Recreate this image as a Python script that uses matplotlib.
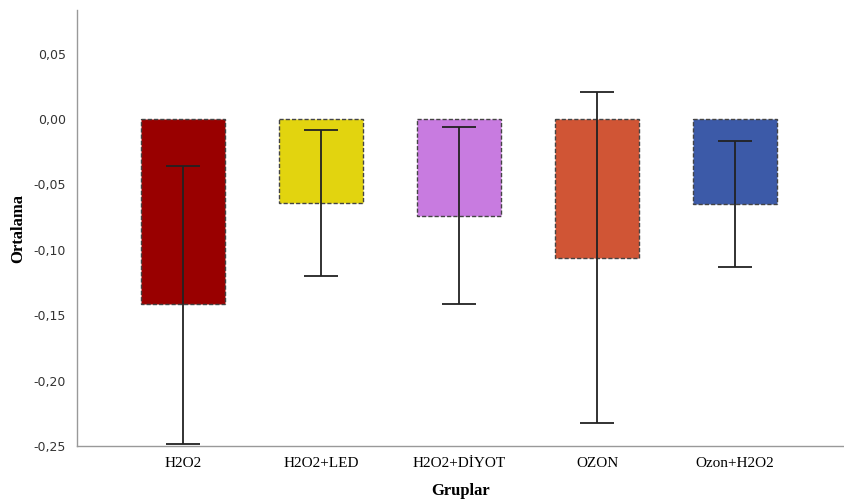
import matplotlib.pyplot as plt
import numpy as np

# data
groups = ["H2O2", "H2O2+LED", "H2O2+DİYOT", "OZON", "Ozon+H2O2"]
means = [-0.1414, -0.0642, -0.0742, -0.1063, -0.0650]
err_low = [-0.2485, -0.1200, -0.1414, -0.2324, -0.1131]
err_high = [-0.0359, -0.0084, -0.0061, 0.0206, -0.0168]
colors = ["#990000", "#E2D40F", "#C87BE0", "#D05535", "#3C5AA8"]
yticks = [0.05, 0.0, -0.05, -0.10, -0.15, -0.20, -0.25]

fig = plt.figure(figsize=(8.44, 5.03), dpi=100)
ax = fig.add_axes([0.0912, 0.1133, 0.9088, 0.8668])

x = np.arange(len(groups))
ax.bar(x, means, width=0.61, color=colors, edgecolor="#444444",
       linestyle=(0, (3, 1.5)), linewidth=1.0, zorder=2)

means_a = np.array(means)
yerr = np.vstack([means_a - np.array(err_low), np.array(err_high) - means_a])
ax.errorbar(x, means, yerr=yerr, fmt="none", ecolor="#222222",
            elinewidth=1.3, capsize=12, capthick=1.3, zorder=3)

ax.set_xlim(-0.77, 4.79)
ax.set_ylim(-0.25, 0.0833)
ax.set_yticks(yticks)
ax.set_yticklabels([f"{v:.2f}".replace(".", ",") if v != 0 else "0,00"
                    for v in yticks], fontsize=9, color="#333333")
ax.set_xticks(x)
ax.set_xticklabels(groups, fontsize=11, family="Liberation Serif")
ax.tick_params(length=0, pad=8)

ax.set_ylabel("Ortalama", fontsize=12, family="Liberation Serif",
              fontweight="bold")
ax.yaxis.set_label_coords(-0.066, 0.5)
ax.set_xlabel("Gruplar", fontsize=12, family="Liberation Serif",
              fontweight="bold", labelpad=9)

for s in ["top", "right"]:
    ax.spines[s].set_visible(False)
for s in ["left", "bottom"]:
    ax.spines[s].set_color("#999999")
    ax.spines[s].set_linewidth(1.0)

fig.savefig("out.png", dpi=100)
